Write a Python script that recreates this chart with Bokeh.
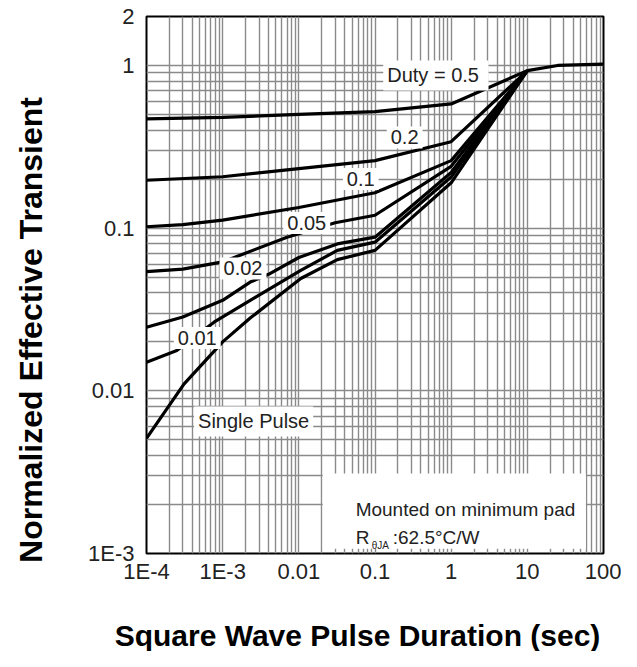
import math
from bokeh.plotting import figure
from bokeh.models import Range1d, FixedTicker, CustomJSTickFormatter, Label, BoxAnnotation
from bokeh.embed import file_html
from bokeh.resources import INLINE

# ---------------- data ----------------
x_ticks = [1e-4, 1e-3, 1e-2, 1e-1, 1, 10, 100]
x_tick_labels = ["1E-4", "1E-3", "0.01", "0.1", "1", "10", "100"]
y_ticks = [1e-3, 1e-2, 1e-1, 1, 2]
y_tick_labels = ["1E-3", "0.01", "0.1", "1", "2"]

duty_05_x = [1e-4, 1e-3, 1e-2, 0.1, 1, 10]
duty_05_y = [0.47, 0.48, 0.50, 0.52, 0.58, 0.93]
duty_02_x = [1e-4, 1e-3, 1e-2, 0.1, 1, 10]
duty_02_y = [0.197, 0.207, 0.232, 0.26, 0.34, 0.93]
duty_01_x = [1e-4, 3e-4, 1e-3, 1e-2, 0.1, 1, 10]
duty_01_y = [0.102, 0.105, 0.112, 0.134, 0.165, 0.26, 0.93]
duty_005_x = [1e-4, 3e-4, 1e-3, 7e-3, 0.03, 0.1, 1, 10]
duty_005_y = [0.054, 0.056, 0.062, 0.088, 0.108, 0.12, 0.24, 0.93]
duty_002_x = [1e-4, 3e-4, 1e-3, 2.3e-3, 4e-3, 0.01, 0.032, 0.1, 1, 10]
duty_002_y = [0.0246, 0.0284, 0.036, 0.0466, 0.052, 0.066, 0.080, 0.088, 0.22, 0.93]
duty_001_x = [1e-4, 2.5e-4, 7.7e-4, 2.3e-3, 0.0106, 0.032, 0.1, 1, 10]
duty_001_y = [0.015, 0.0177, 0.0264, 0.036, 0.055, 0.073, 0.082, 0.206, 0.93]
single_x = [1e-4, 3.1e-4, 1e-3, 2.3e-3, 0.0106, 0.032, 0.1, 1, 10]
single_y = [0.0051, 0.011, 0.020, 0.028, 0.049, 0.064, 0.073, 0.19, 0.93]
tail_x = [10, 25, 100]
tail_y = [0.93, 1.0, 1.02]

curves = [
    (duty_05_x, duty_05_y), (duty_02_x, duty_02_y), (duty_01_x, duty_01_y),
    (duty_005_x, duty_005_y), (duty_002_x, duty_002_y), (duty_001_x, duty_001_y),
    (single_x, single_y), (tail_x, tail_y),
]

# minor grid positions (2..9 within each decade)
x_minor = [m * d for d in x_ticks[:-1] for m in range(2, 10)]
y_minor = [m * d for d in y_ticks[:3] for m in range(2, 10)]

FONT = "Liberation Sans"
GRID = "#8a8a8a"

p = figure(x_axis_type="log", y_axis_type="log",
           x_range=Range1d(1e-4, 100), y_range=Range1d(1e-3, 2),
           frame_width=457, frame_height=537,
           min_border_left=146, min_border_right=18, min_border_top=16, min_border_bottom=98,
           output_backend="svg", toolbar_location=None)

p.background_fill_color = "white"
p.border_fill_color = "white"
p.outline_line_color = "black"
p.outline_line_width = 2

fmt_code = """
for (let i = 0; i < vals.length; i++) {
  if (Math.abs(tick / vals[i] - 1) < 1e-6) { return labs[i]; }
}
return "";
"""

p.xaxis.ticker = FixedTicker(ticks=x_ticks, minor_ticks=x_minor)
p.yaxis.ticker = FixedTicker(ticks=y_ticks, minor_ticks=y_minor)
p.xaxis.formatter = CustomJSTickFormatter(args=dict(vals=x_ticks, labs=x_tick_labels), code=fmt_code)
p.yaxis.formatter = CustomJSTickFormatter(args=dict(vals=y_ticks, labs=y_tick_labels), code=fmt_code)

for ax in (p.xaxis[0], p.yaxis[0]):
    ax.axis_line_color = None
    ax.major_tick_line_color = None
    ax.minor_tick_line_color = None
    ax.major_tick_out = 0
    ax.major_tick_in = 0
    ax.minor_tick_out = 0
    ax.minor_tick_in = 0
    ax.major_label_text_font = FONT
    ax.major_label_text_font_size = "22px"
    ax.major_label_text_color = "#222222"
p.yaxis[0].major_label_standoff = 12
p.xaxis[0].major_label_standoff = 5

for g in (p.xgrid, p.ygrid):
    g.grid_line_color = GRID
    g.grid_line_width = 1.4
    g.minor_grid_line_color = GRID
    g.minor_grid_line_width = 1.4

for cx, cy in curves:
    p.line(cx, cy, line_color="black", line_width=3.2)

# white box with mounting note
p.add_layout(BoxAnnotation(left=0.0206, right=58.7, bottom=0.00107, top=0.0031,
                           fill_color="white", fill_alpha=1.0, line_color=None))


def add_label(x, y, text, size="20px", bg=True, align="center", baseline="middle", color="#222222"):
    kw = dict(x=x, y=y, text=text, text_font=FONT, text_font_size=size, text_color=color,
              text_align=align, text_baseline=baseline)
    if bg:
        kw.update(background_fill_color="white", padding=4)
    p.add_layout(Label(**kw))


add_label(0.63, 0.868, "Duty =  0.5")
add_label(0.245, 0.361, "0.2")
add_label(0.065, 0.2006, "0.1")
add_label(0.0127, 0.1076, "0.05")
add_label(1.85e-3, 0.0565, "0.02")
add_label(4.64e-4, 0.0211, "0.01")
add_label(2.55e-3, 0.00648, "Single Pulse")

add_label(0.0557, 0.001853, "Mounted on minimum pad", size="19px", bg=False,
          align="left", baseline="alphabetic")
add_label(0.0557, 0.001256, "R", size="19px", bg=False, align="left", baseline="alphabetic")
add_label(0.0905, 0.001122, "\u03b8JA", size="10px", bg=False, align="left", baseline="alphabetic")
add_label(0.1709, 0.001256, ":62.5\u00b0C/W", size="19px", bg=False, align="left", baseline="alphabetic")

# axis titles, placed in the side panels (positions extrapolated through the log scales)
p.add_layout(Label(x=0.0589, y=3.155e-4, text="Square Wave Pulse Duration (sec)",
                   text_font=FONT, text_font_style="bold", text_font_size="30px",
                   text_color="black", text_align="center", text_baseline="alphabetic"),
             "below")
p.add_layout(Label(x=3.05e-6, y=0.02366, text="Normalized Effective Transient",
                   angle=math.pi / 2,
                   text_font=FONT, text_font_style="bold", text_font_size="32px",
                   text_color="black", text_align="center", text_baseline="alphabetic"),
             "left")

open("out.html", "w").write(file_html(p, INLINE))
